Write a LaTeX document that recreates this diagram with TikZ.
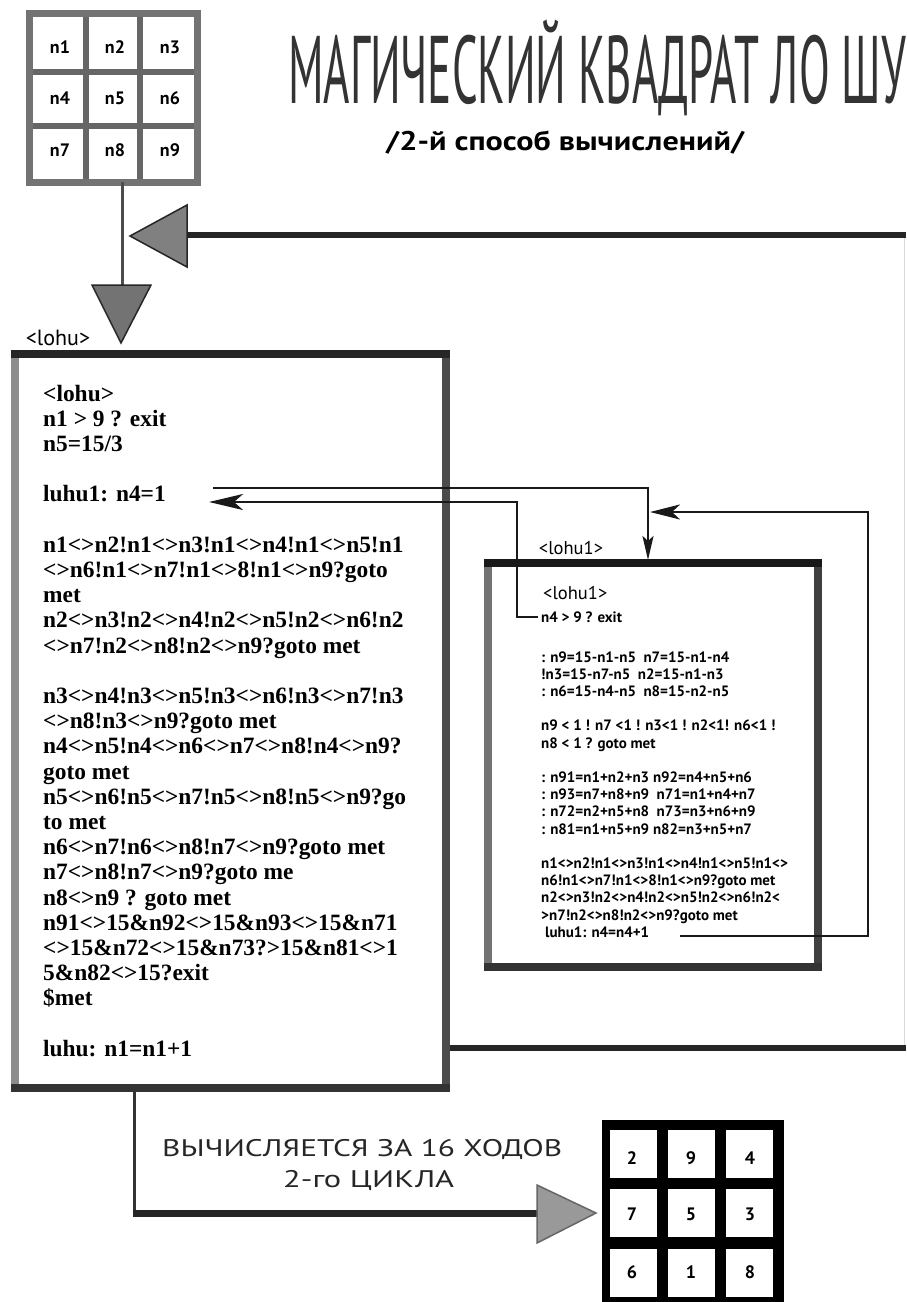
\documentclass[tikz,border=0pt]{standalone}
\usepackage{fontspec}
\usepackage{graphicx}
\setmainfont{Liberation Serif}
\newfontfamily\sansf{PT Sans}
\usetikzlibrary{arrows.meta}
\newsavebox\fitsb
\newcommand\fitbox[2]{\sbox\fitsb{#2}\pgfmathsetmacro\fitfac{#1/\the\wd\fitsb}\scalebox{\fitfac}[1]{\usebox\fitsb}}
\begin{document}
\begin{tikzpicture}[x=1pt,y=-1pt,
  codef/.style={font=\fontsize{23.4}{25}\selectfont\bfseries, anchor=base west, inner sep=0pt},
  smallf/.style={font=\sansf\bfseries\fontsize{15}{17}\selectfont, anchor=base west, inner sep=0pt},
  labelf/.style={font=\sansf\fontsize{18.5}{20}\selectfont, inner sep=0pt},
  gridtxt/.style={font=\sansf\bfseries\fontsize{18}{20}\selectfont, inner sep=0pt},
  numtxt/.style={font=\sansf\bfseries\fontsize{18}{20}\selectfont, inner sep=0pt},
  conn/.style={line width=2.5pt, draw=black!90},
  bigline/.style={line width=6pt, draw=black!85},
  tri/.style={fill=black!50, draw=black!85, line width=1.5pt, line join=miter}]
\fill[white] (0,0) rectangle (906,1302);
\useasboundingbox (0,0) rectangle (906,1302);

% ---- top-left grid
\fill[white] (29,13) rectangle (197,182);
\draw[line width=6pt, black!60] (86,13) -- (86,182) (140,13) -- (140,182) (29,72) -- (197,72) (29,126) -- (197,126);
\draw[line width=7pt, black!55] (29,13) rectangle (197,182);
\node[gridtxt] (g1) at (60,47) {n1};
\node[gridtxt] (g2) at (115,47) {n2};
\node[gridtxt] (g3) at (170,47) {n3};
\node[gridtxt] (g4) at (60,98) {n4};
\node[gridtxt] (g5) at (115,98) {n5};
\node[gridtxt] (g6) at (170,98) {n6};
\node[gridtxt] (g7) at (60,150) {n7};
\node[gridtxt] (g8) at (115,150) {n8};
\node[gridtxt] (g9) at (170,150) {n9};

% ---- title
\node[anchor=base west, inner sep=0pt, font=\sansf\fontsize{96}{96}\selectfont, black!80] (title) at (288,103) {\fitbox{618}{МАГИЧЕСКИЙ КВАДРАТ ЛО ШУ}};
\node[anchor=base west, inner sep=0pt, font=\sansf\bfseries\fontsize{27}{30}\selectfont] (subtitle) at (386,150) {\fitbox{358}{/2-й способ вычислений/}};

% ---- top loop connectors
\coordinate (gbot) at (122,182);
\coordinate (dtop) at (122,285);
\draw[line width=3pt, black!70] (gbot) -- (dtop);
\coordinate (lbase) at (187,235);
\coordinate (redgeT) at (906,235);
\coordinate (redgeB) at (906,1048);
\coordinate (luhuS) at (289,1048);
\draw[line width=1pt, black!15] (904,1048) -- (904,235);
\draw[bigline] (redgeT) -- (lbase);
\draw[bigline] (luhuS) -- (redgeB);
\draw[tri] (187,205) -- (130,236) -- (187,267) -- cycle;
\draw[tri, fill=black!55] (92,285) -- (151,285) -- (121,343) -- cycle;
\node[font=\sansf\fontsize{22}{24}\selectfont, inner sep=0pt] (lohulab) at (58,338) {<lohu>};

% ---- big box
\fill[white] (15,354) rectangle (446,1088);
\draw[line width=8pt, black!45] (15,354) -- (15,1088);
\draw[line width=8pt, black!70] (446,354) -- (446,1088);
\draw[line width=8pt, black!85] (11,354) -- (450,354);
\draw[line width=8pt, black!80] (11,1088) -- (450,1088);

\foreach \i/\t in {0/{<lohu>},1/{n1 > 9 ? exit},2/{n5=15/3},4/{luhu1: n4=1},
  6/{n1<>n2!n1<>n3!n1<>n4!n1<>n5!n1},7/{<>n6!n1<>n7!n1<>8!n1<>n9?goto},8/{met},
  9/{n2<>n3!n2<>n4!n2<>n5!n2<>n6!n2},10/{<>n7!n2<>n8!n2<>n9?goto met},
  12/{n3<>n4!n3<>n5!n3<>n6!n3<>n7!n3},13/{<>n8!n3<>n9?goto met},
  14/{n4<>n5!n4<>n6<>n7<>n8!n4<>n9?},15/{goto met},
  16/{n5<>n6!n5<>n7!n5<>n8!n5<>n9?go},17/{to met},
  18/{n6<>n7!n6<>n8!n7<>n9?goto met},19/{n7<>n8!n7<>n9?goto me},
  20/{n8<>n9 ? goto met},21/{n91<>15\&n92<>15\&n93<>15\&n71},
  22/{<>15\&n72<>15\&n73?>15\&n81<>1},23/{5\&n82<>15?exit},24/{\$met},
  26/{luhu: n1=n1+1}}
  \node[codef] (code\i) at (43,401+25.2*\i) {\t};

% ---- inner box
\fill[white] (488,563) rectangle (818,967);
\draw[line width=8pt, black!55] (488,563) -- (488,967);
\draw[line width=8pt, black!75] (818,563) -- (818,967);
\draw[line width=8pt, black!90] (484,563) -- (822,563);
\draw[line width=8pt, black!80] (484,967) -- (822,967);
\node[labelf] (lohu1lab) at (571,548) {<lohu1>};
\node[labelf, anchor=base west] (h1) at (543,599) {<lohu1>};
\node[smallf] (h2) at (541,622) {n4 > 9 ? exit};
\foreach \i/\t in {0/{: n9=15-n1-n5\enspace n7=15-n1-n4},1/{!n3=15-n7-n5\enspace n2=15-n1-n3},
  2/{: n6=15-n4-n5\enspace n8=15-n2-n5},4/{n9 < 1 ! n7 <1 ! n3<1 ! n2<1! n6<1 !},
  5/{n8 < 1 ? goto met},7/{: n91=n1+n2+n3 n92=n4+n5+n6},8/{: n93=n7+n8+n9\enspace n71=n1+n4+n7},
  9/{: n72=n2+n5+n8\enspace n73=n3+n6+n9},10/{: n81=n1+n5+n9 n82=n3+n5+n7},
  12/{n1<>n2!n1<>n3!n1<>n4!n1<>n5!n1<>},13/{n6!n1<>n7!n1<>8!n1<>n9?goto met},
  14/{n2<>n3!n2<>n4!n2<>n5!n2<>n6!n2<},15/{>n7!n2<>n8!n2<>n9?goto met}}
  \node[smallf] (in\i) at (541,662+17.2*\i) {\t};
\node[smallf] (in16) at (545,937) {luhu1: n4=n4+1};

% ---- thin connectors
\coordinate (a1s) at (213,488);
\coordinate (a1e) at (648,560);
\draw[conn, -{Stealth[length=24pt,width=11pt,inset=5pt]}] (a1s) -| (a1e);
\coordinate (a2s) at (538,617);
\coordinate (a2m) at (517,502);
\coordinate (a2e) at (209,502);
\draw[conn, -{Stealth[length=34pt,width=16pt,inset=9pt]}] (a2s) -| (a2m) -- (a2e);
\coordinate (a3s) at (680,936);
\coordinate (a3m) at (868,512);
\coordinate (a3e) at (650,512);
\draw[conn, -{Stealth[length=30pt,width=15pt,inset=8pt]}] (a3s) -| (a3m) -- (a3e);

% ---- bottom connector
\coordinate (bstart) at (134,1092);
\coordinate (bcorner) at (134,1213);
\coordinate (bend) at (537,1213);
\draw[line width=3pt, black!80] (bstart) -- (bcorner);
\draw[line width=7pt, black!85] (132.5,1213) -- (bend);
\draw[tri, fill=black!40, draw=black!60] (537,1185) -- (596,1213) -- (537,1243) -- cycle;
\node[anchor=base west, inner sep=0pt, font=\sansf\fontsize{24}{26}\selectfont, black!85] (btxt1) at (162,1156) {\fitbox{400}{ВЫЧИСЛЯЕТСЯ ЗА 16 ХОДОВ}};
\node[anchor=base west, inner sep=0pt, font=\sansf\fontsize{24}{26}\selectfont, black!85] (btxt2) at (283,1187) {\fitbox{171}{2-го ЦИКЛА}};

% ---- result grid
\fill[black] (602,1120) rectangle (784,1306);
\foreach \c/\x in {1/633.5,2/691.5,3/749.5}
  \foreach \r/\y in {1/1154,2/1212.5,3/1272.5}
    \fill[white] (\x-23.5,\y-24) rectangle (\x+23.5,\y+24);
\node[numtxt] (r1) at (632,1158) {2};
\node[numtxt] (r2) at (691,1158) {9};
\node[numtxt] (r3) at (750,1158) {4};
\node[numtxt] (r4) at (632,1214) {7};
\node[numtxt] (r5) at (691,1214) {5};
\node[numtxt] (r6) at (750,1214) {3};
\node[numtxt] (r7) at (632,1272) {6};
\node[numtxt] (r8) at (691,1272) {1};
\node[numtxt] (r9) at (750,1272) {8};
\end{tikzpicture}
\end{document}
